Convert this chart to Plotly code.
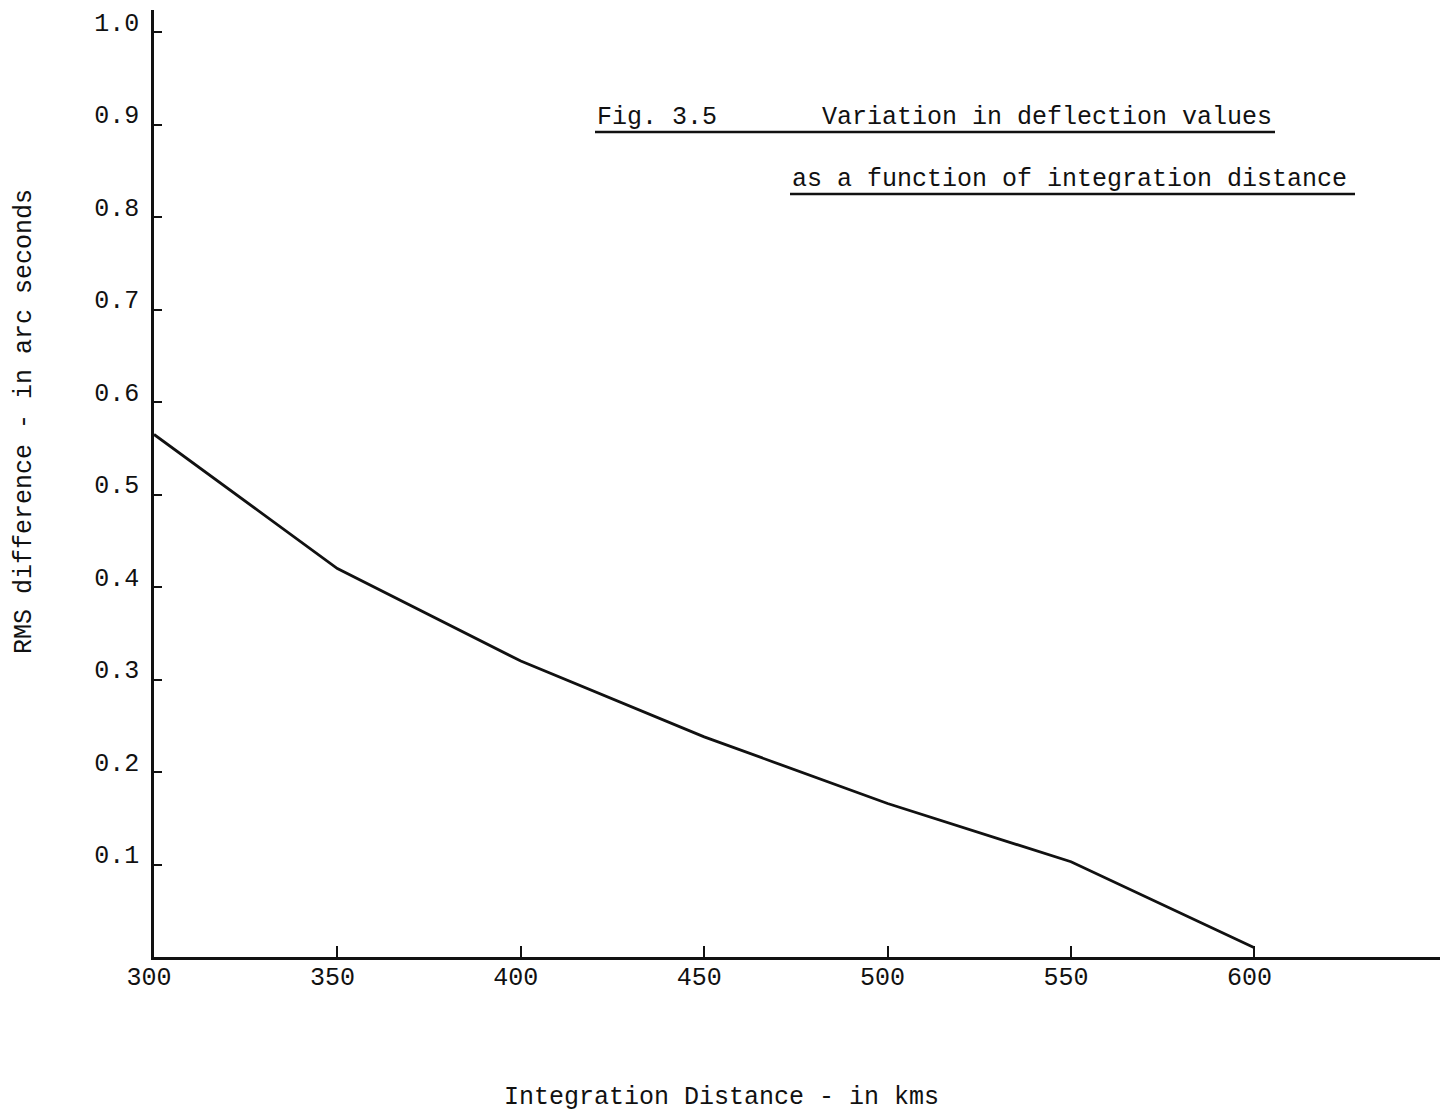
import plotly.graph_objects as go

# Data
distance_km = [300, 350, 400, 450, 500, 550, 600]
rms_diff_arcsec = [0.565, 0.42, 0.32, 0.238, 0.166, 0.103, 0.01]
x_tick_vals = [300, 350, 400, 450, 500, 550, 600]
x_tick_text = ["300", "350", "400", "450", "500", "550", "600"]
y_tick_vals = [0.1, 0.2, 0.3, 0.4, 0.5, 0.6, 0.7, 0.8, 0.9, 1.0]
y_tick_text = ["0.1", "0.2", "0.3", "0.4", "0.5", "0.6", "0.7", "0.8", "0.9", "1.0"]

W, H = 1440, 1113
ML, MR, MT, MB = 154, 0, 10, 156
PW, PH = W - ML - MR, H - MT - MB

def px(x):
    return (x - ML) / PW

def py(y):
    return (H - MB - y) / PH

FONT = "Liberation Mono, Courier New, monospace"
INK = "#111111"

fig = go.Figure()
fig.add_trace(go.Scatter(
    x=distance_km, y=rms_diff_arcsec, mode="lines",
    line=dict(color=INK, width=2.8), hoverinfo="skip", showlegend=False,
))

fig.update_layout(
    width=W, height=H,
    margin=dict(l=ML, r=MR, t=MT, b=MB),
    paper_bgcolor="white", plot_bgcolor="white",
    font=dict(family=FONT, size=25, color=INK),
    showlegend=False,
    xaxis=dict(
        range=[300, 650.6], showgrid=False, zeroline=False,
        showline=True, linecolor=INK, linewidth=2.5,
        tickmode="array", tickvals=x_tick_vals, ticktext=x_tick_text,
        ticks="inside", ticklen=11, tickwidth=2, tickcolor=INK,
        tickfont=dict(family=FONT, size=25, color=INK),
        ticklabelstandoff=-5, ticklabelshift=-5,
    ),
    yaxis=dict(
        range=[0, 1.024], showgrid=False, zeroline=False,
        showline=True, linecolor=INK, linewidth=2.5,
        tickmode="array", tickvals=y_tick_vals, ticktext=y_tick_text,
        ticks="inside", ticklen=8, tickwidth=2, tickcolor=INK,
        tickfont=dict(family=FONT, size=25, color=INK),
        ticklabelstandoff=7, ticklabelshift=-10,
    ),
)

annotations = [
    dict(text="Fig. 3.5       Variation in deflection values",
         x=px(595), y=py(117), xanchor="left", yanchor="middle"),
    dict(text="as a function of integration distance",
         x=px(790), y=py(179), xanchor="left", yanchor="middle"),
    dict(text="RMS difference - in arc seconds",
         x=px(25), y=py(422), xanchor="center", yanchor="middle", textangle=-90),
    dict(text="Integration Distance - in kms",
         x=px(721), y=py(1097), xanchor="center", yanchor="middle"),
]
for a in annotations:
    fig.add_annotation(xref="paper", yref="paper", showarrow=False,
                       font=dict(family=FONT, size=25, color=INK), **a)

# underlines of the caption
for (x0, x1, yy) in [(595, 1275, 132), (790, 1355, 194)]:
    fig.add_shape(type="line", xref="paper", yref="paper",
                  x0=px(x0), x1=px(x1), y0=py(yy), y1=py(yy),
                  line=dict(color=INK, width=2.5))

fig.write_html("out.html", config={"displayModeBar": False},
               post_script="document.body.style.margin='0';")
